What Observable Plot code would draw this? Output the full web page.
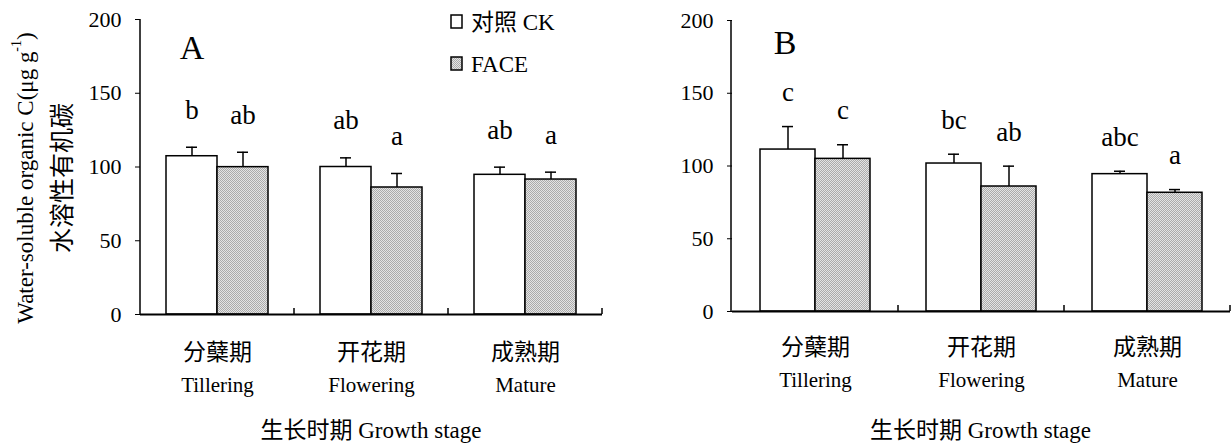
<!DOCTYPE html>
<html><head><meta charset="utf-8">
<script src="https://cdn.jsdelivr.net/npm/d3@7"></script>
<script src="https://cdn.jsdelivr.net/npm/@observablehq/plot@0.6"></script>
<style>
body{margin:0;background:#fff;}
#wrap{position:relative;width:1232px;height:443px;overflow:hidden;background:#fff;}
#a{position:absolute;left:0;top:0;}
#b{position:absolute;left:620px;top:0;}
svg text{font-family:"Liberation Serif","Noto Sans CJK SC",serif;}
</style></head><body><div id="wrap"><div id="a"></div><div id="b"></div></div>
<script>
const stageCN = ["分蘖期","开花期","成熟期"];
const stageEN = ["Tillering","Flowering","Mature"];
const treatments = ["CK","FACE"];
const legendLabels = ["对照 CK","FACE"];
const yTicks = [0,50,100,150,200];
const yTitleEN = "Water-soluble organic C(μg g";
const yTitleCN = "水溶性有机碳";
const xTitle = "生长时期 Growth stage";

// Panel A
const ckA = [107.3, 100.0, 94.7];
const ckErrA = [6.1, 6.2, 5.2];
const faceA = [99.9, 86.1, 91.5];
const faceErrA = [10.1, 9.5, 5.0];
const ckLettersA = ["b","ab","ab"];
const faceLettersA = ["ab","a","a"];

// Panel B
const ckB = [111.3, 101.7, 94.4];
const ckErrB = [15.8, 6.4, 2.0];
const faceB = [104.9, 85.9, 81.6];
const faceErrB = [9.7, 14.0, 2.2];
const ckLettersB = ["c","bc","abc"];
const faceLettersB = ["c","ab","a"];

const FONT = '"Liberation Serif","Noto Sans CJK SC",serif';

function rows(ck, ckErr, face, faceErr, ckL, faceL){
  const r = [];
  stageCN.forEach((s,i)=>{
    r.push({stage:s, trt:"CK", value:ck[i], top:ck[i]+ckErr[i], letter:ckL[i]});
    r.push({stage:s, trt:"FACE", value:face[i], top:face[i]+faceErr[i], letter:faceL[i]});
  });
  return r;
}

function addPattern(svg){
  const defs = svg.insert("defs", ":first-child");
  const p = defs.append("pattern").attr("id","hatch").attr("patternUnits","userSpaceOnUse")
    .attr("width",2).attr("height",2);
  p.append("rect").attr("width",2).attr("height",2).attr("fill","#e4e4e4");
  p.append("rect").attr("x",0).attr("y",0).attr("width",1).attr("height",1).attr("fill","#ababab");
  p.append("rect").attr("x",1).attr("y",1).attr("width",1).attr("height",1).attr("fill","#ababab");
}

function panel(cfg){
  const data = cfg.data;
  const plot = Plot.plot({
    width: cfg.width, height: cfg.height,
    marginLeft: cfg.marginLeft, marginRight: cfg.marginRight,
    marginTop: cfg.marginTop, marginBottom: cfg.marginBottom,
    style: {fontFamily: FONT, fontSize: "22px", color: "#000", background: "transparent"},
    fx: {domain: stageCN, padding: 0, axis: null, label: null},
    x: {domain: treatments, paddingInner: 0, paddingOuter: 0.5, axis: null},
    y: {domain: [0,200], axis: null},
    marks: [
      Plot.axisY({ticks: yTicks, tickSize: 5, tickPadding: 14, label: null, fontSize: 22, tickFormat: d => String(d)}),
      Plot.barY(data.filter(d=>d.trt==="CK"), {fx:"stage", x:"trt", y:"value", fill:"white", stroke:"black", strokeWidth:1.5}),
      Plot.barY(data.filter(d=>d.trt==="FACE"), {fx:"stage", x:"trt", y:"value", fill:"url(#hatch)", stroke:"black", strokeWidth:1.5}),
      Plot.ruleX(data, {fx:"stage", x:"trt", y1:"value", y2:"top", stroke:"black", strokeWidth:1.5}),
      Plot.tickY(data, {fx:"stage", x:"trt", y:"top", insetLeft:cfg.capInset, insetRight:cfg.capInset, stroke:"black", strokeWidth:1.5}),
      Plot.text(data, {fx:"stage", x:"trt", y:"top", text:"letter", dy:cfg.letterDy, fontSize:27, fill:"black"}),
      Plot.ruleY([0], {stroke:"black", strokeWidth:2}),
      Plot.text(stageCN, {fx:d=>d, text:d=>d, frameAnchor:"bottom", dy:cfg.cnDy, fontSize:23, fill:"black"}),
      Plot.text(stageEN, {fx:(d,i)=>stageCN[i], text:d=>d, frameAnchor:"bottom", dy:cfg.enDy, fontSize:21, fill:"black"})
    ]
  });
  const svg = d3.select(plot);
  addPattern(svg);
  const fx = plot.scale("fx"), y = plot.scale("y");
  const y0 = y.apply(0), yTop = y.apply(200);
  const left = cfg.marginLeft, right = cfg.width - cfg.marginRight;
  const g = svg.append("g").attr("stroke","black").attr("stroke-width",1.5);
  g.append("line").attr("x1",left).attr("x2",left).attr("y1",y0).attr("y2",yTop);
  stageCN.forEach(s=>{
    const xe = fx.apply(s) + fx.bandwidth;
    g.append("line").attr("x1",xe).attr("x2",xe).attr("y1",y0).attr("y2",y0-6);
  });
  // x title
  svg.append("text").attr("x",(left+right)/2).attr("y",cfg.xTitleY)
    .attr("text-anchor","middle").attr("dominant-baseline","central")
    .attr("font-size",23).attr("fill","black").text(xTitle);
  // panel tag
  svg.append("text").attr("x",cfg.tagX).attr("y",cfg.tagY)
    .attr("text-anchor","middle").attr("dominant-baseline","central")
    .attr("font-size",34).attr("fill","black").text(cfg.tag);
  return {plot, svg};
}

const A = panel({
  data: rows(ckA, ckErrA, faceA, faceErrA, ckLettersA, faceLettersA),
  width: 620, height: 443, marginLeft: 140, marginRight: 18, marginTop: 19, marginBottom: 129,
  capInset: 20, letterDy: -37, cnDy: 45, enDy: 77, xTitleY: 430, tag: "A", tagX: 192, tagY: 47
});
// y-axis title (panel A)
const t1 = A.svg.append("text").attr("transform","translate(25,178) rotate(-90)")
  .attr("text-anchor","middle").attr("dominant-baseline","central").attr("font-size",23).attr("fill","black");
t1.append("tspan").text(yTitleEN);
t1.append("tspan").attr("font-size",14).attr("dy",-9).text("-1");
t1.append("tspan").attr("dy",9).text(")");
A.svg.append("text").attr("transform","translate(62,178) rotate(-90)")
  .attr("text-anchor","middle").attr("dominant-baseline","central").attr("font-size",25).attr("fill","black")
  .text(yTitleCN);
// legend
const lg = A.svg.append("g");
legendLabels.forEach((lab,i)=>{
  const yy = 15 + i*42;
  lg.append("rect").attr("x",451).attr("y",yy).attr("width",11).attr("height",13)
    .attr("fill", i===0 ? "white" : "url(#hatch)").attr("stroke","black").attr("stroke-width",1.5);
  lg.append("text").attr("x",471).attr("y",yy+7).attr("text-anchor","start").attr("dominant-baseline","central")
    .attr("font-size",23).attr("fill","black").text(lab);
});
document.getElementById("a").appendChild(A.plot);

const B = panel({
  data: rows(ckB, ckErrB, faceB, faceErrB, ckLettersB, faceLettersB),
  width: 612, height: 443, marginLeft: 111, marginRight: 2, marginTop: 20, marginBottom: 132,
  capInset: 22, letterDy: -34, cnDy: 43, enDy: 75, xTitleY: 430, tag: "B", tagX: 165, tagY: 42
});
document.getElementById("b").appendChild(B.plot);
</script></body></html>
